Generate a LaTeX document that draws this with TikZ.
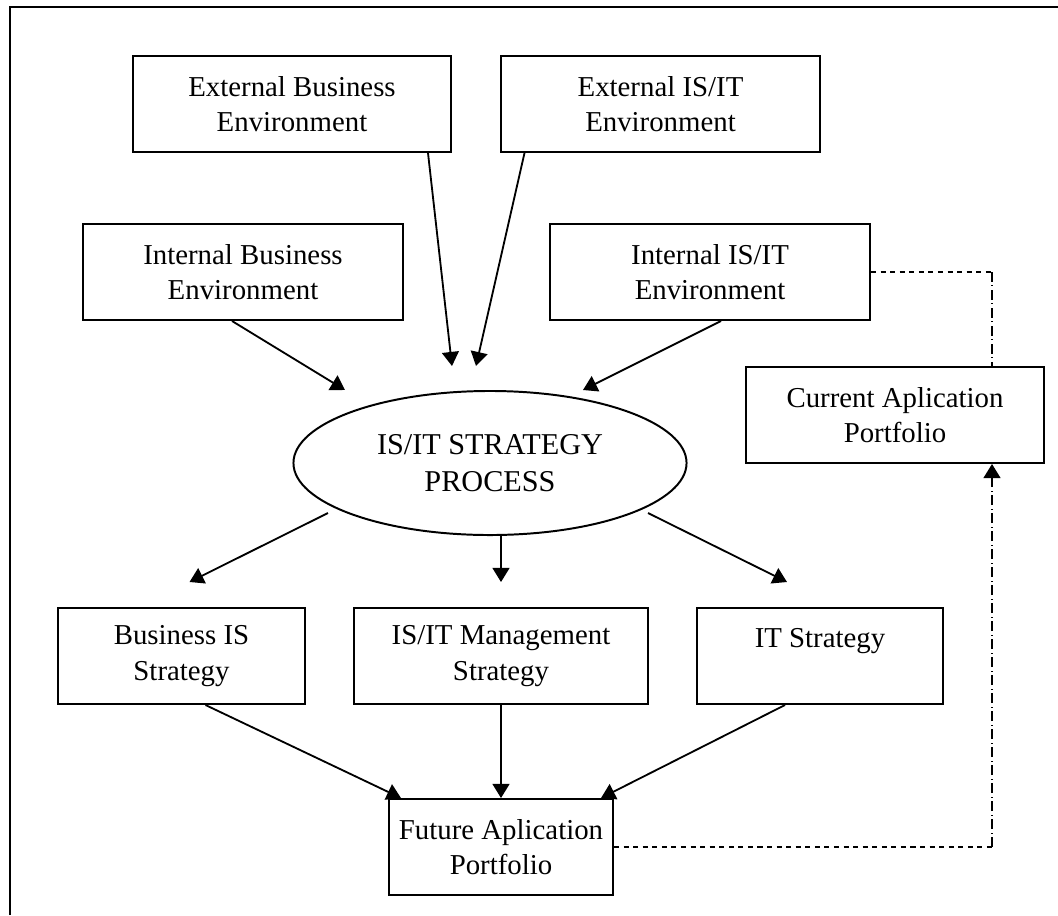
\documentclass[tikz,border=0pt]{standalone}
\usepackage{fontspec}
\setmainfont{Liberation Serif}
\usepackage{tikz}
\usetikzlibrary{shapes.geometric, arrows.meta, calc}

\tikzset{
  stratbox/.style={draw, line width=1.4pt, minimum height=2.4cm, align=center, inner sep=0pt,
    font=\fontsize{20.5}{25}\selectfont},
  procnode/.style={draw, ellipse, line width=1.4pt, minimum width=9.825cm, minimum height=3.6cm,
    align=center, inner sep=0pt, font=\fontsize{21.5}{26.5}\selectfont},
  arr/.style={line width=1.3pt, -{Triangle[length=10pt, width=12pt]}},
  dashlink/.style={line width=1.3pt, dash pattern=on 3.6pt off 3.2pt},
  dotlink/.style={line width=1.2pt, dash pattern=on 7pt off 2.5pt on 0.8pt off 2.5pt}
}

\begin{document}
\begin{tikzpicture}[x=0.025cm, y=-0.025cm]
  \useasboundingbox (0,0) rectangle (1058,915);
  % page frame
  \draw[line width=2pt] (10,915) -- (10,7) -- (1058,7);

  % environment boxes
  \node[stratbox, minimum width=7.95cm] (extbus) at (292,104) {External Business\\Environment};
  \node[stratbox, minimum width=7.95cm] (extit) at (660.5,104) {External IS/IT\\Environment};
  \node[stratbox, minimum width=8cm] (intbus) at (243,272) {Internal Business\\Environment};
  \node[stratbox, minimum width=8cm] (intit) at (710,272) {Internal IS/IT\\Environment};
  \node[stratbox, minimum width=7.45cm] (curport) at (895,415) {Current Aplication\\Portfolio};

  % strategy process
  \node[procnode] (proc) at (490,463) {IS/IT STRATEGY\\PROCESS};

  % strategies and future portfolio
  \node[stratbox, minimum width=6.18cm] (busis) at (181.5,656) {Business IS\\Strategy};
  \node[stratbox, minimum width=7.35cm] (mgmt) at (501,656) {IS/IT Management\\Strategy};
  \node[stratbox, minimum width=6.15cm] (itstrat) at (820,656) {IT Strategy\\\phantom{X}};
  \node[stratbox, minimum width=5.6cm] (futport) at (501,847) {Future Aplication\\Portfolio};

  % inputs to the process
  \draw[arr] ($(extbus.south)+(136,0)$) -- ($(proc.north)+(-38,-24)$);
  \draw[arr] ($(extit.south)+(-136,0)$) -- ($(proc.north)+(-14,-24)$);
  \draw[arr] ($(intbus.south)+(-11,0)$) -- ($(proc.north)+(-145,0)$);
  \draw[arr] ($(intit.south)+(11,0)$) -- ($(proc.north)+(93,0)$);

  % outputs of the process
  \draw[arr] ($(proc.south)+(-162,-23)$) -- ($(busis.north)+(8,-25)$);
  \draw[arr] ($(proc.south)+(11,0)$) -- ($(mgmt.north)+(0,-25)$);
  \draw[arr] ($(proc.south)+(158,-23)$) -- ($(itstrat.north)+(-33,-25)$);

  \draw[arr] ($(busis.south)+(24,0)$) -- ($(futport.north west)+(13,0)$);
  \draw[arr] (mgmt.south) -- (futport.north);
  \draw[arr] ($(itstrat.south)+(-35,0)$) -- ($(futport.north east)+(-13,0)$);

  % feedback links
  \coordinate (topcorner) at ($(curport.north)+(97,0)$);
  \coordinate (botcorner) at ($(curport.south)+(97,0)$);
  \draw[dashlink] (intit.east) -- (intit.east -| topcorner);
  \draw[dotlink] (intit.east -| topcorner) -- (topcorner);
  \draw[dashlink] (futport.east) -- (futport.east -| botcorner);
  \draw[dotlink, -{Triangle[length=10pt, width=12pt]}] (futport.east -| botcorner) -- (botcorner);
\end{tikzpicture}
\end{document}
